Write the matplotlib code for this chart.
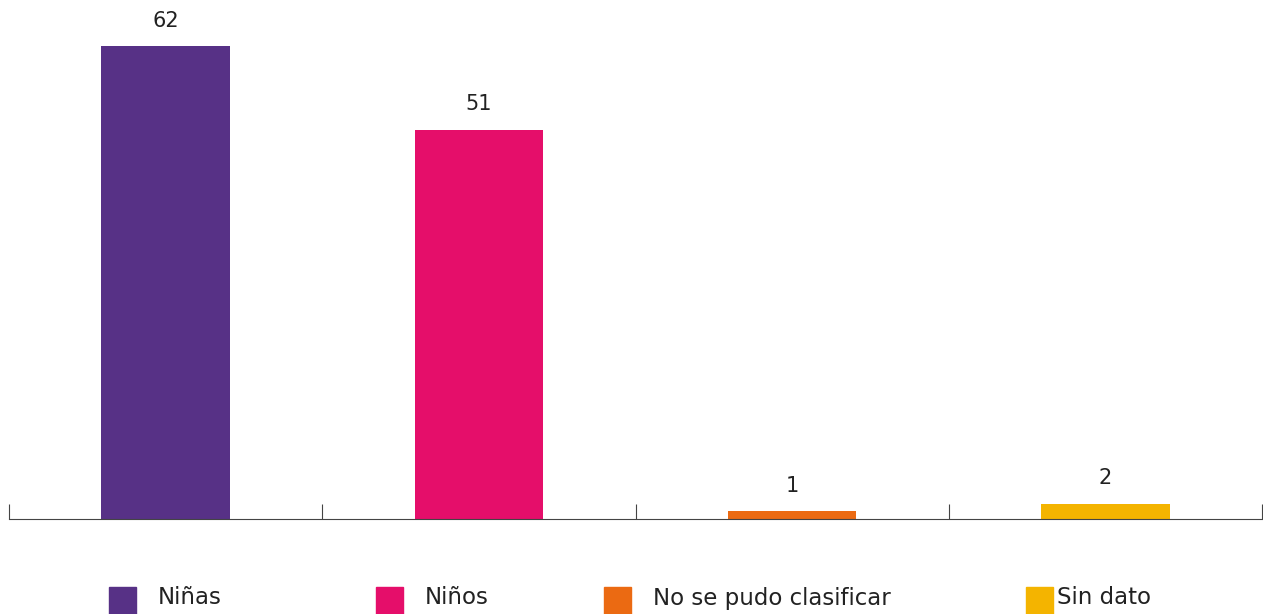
import matplotlib.pyplot as plt
from matplotlib.patches import Rectangle

categories = ['Niñas', 'Niños', 'No se pudo clasificar', 'Sin dato']
values = [62, 51, 1, 2]
colors = ['#573186', '#E50E6A', '#EB6A12', '#F4B400']

W, H = 1263, 614
fig = plt.figure(figsize=(W / 100, H / 100), dpi=100)
ax = fig.add_axes([9 / W, (H - 519) / H, (1262 - 9) / W, 519 / H])

x = list(range(len(categories)))
bars = ax.bar(x, values, width=0.41, color=colors)
for b, v in zip(bars, values):
    ax.annotate(str(v), (b.get_x() + b.get_width() / 2, v), xytext=(0, 11),
                textcoords='offset points', ha='center', va='bottom',
                fontsize=15, color='#222222')

ax.set_xlim(-0.5, len(categories) - 0.5)
ax.set_ylim(0, 68)
ax.set_xticks([i - 0.5 for i in range(len(categories) + 1)])
ax.set_xticklabels([])
ax.tick_params(axis='x', direction='in', length=11, width=0.8, color='#444444')
ax.set_yticks([])
for s in ['top', 'right', 'left']:
    ax.spines[s].set_visible(False)
ax.spines['bottom'].set_color('#444444')
ax.spines['bottom'].set_linewidth(0.8)

# legend laid out by hand along the bottom edge
sq_x = [109, 376, 604, 1026]
txt_x = [158, 425, 653, 1057]
for sx, tx, lab, c in zip(sq_x, txt_x, categories, colors):
    fig.patches.append(Rectangle((sx / W, 0), 27 / W, 27 / H, color=c,
                                 transform=fig.transFigure, figure=fig))
    fig.text(tx / W, (H - 598) / H, lab, fontsize=16.5, va='center',
             ha='left', color='#222222')

fig.savefig('out.png', dpi=100)
